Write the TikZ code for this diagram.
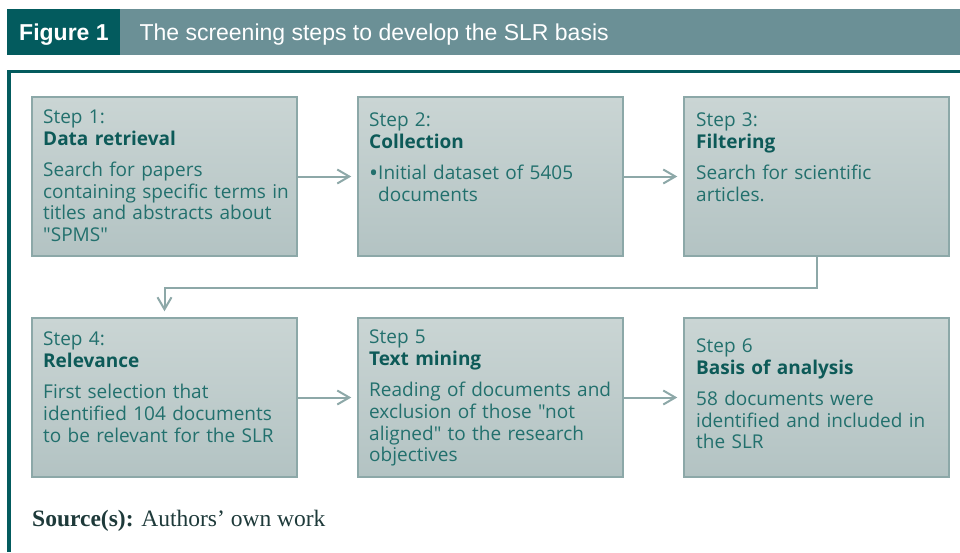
\documentclass[tikz,border=0pt]{standalone}
\usepackage{fontspec}
\setmainfont{Open Sans}[Ligatures=TeXOff]
\newfontfamily\hdrfont{Liberation Sans}
\newfontfamily\srcfont{Liberation Serif}
\usetikzlibrary{arrows.meta}
\definecolor{darkteal}{HTML}{035B5E}
\definecolor{hdrbar}{HTML}{6B9096}
\definecolor{boxtop}{HTML}{CAD5D4}
\definecolor{boxbot}{HTML}{B3C3C3}
\definecolor{boxline}{HTML}{8CA8A8}
\definecolor{bodytxt}{HTML}{22706D}
\definecolor{titletxt}{HTML}{0D5A58}
\definecolor{arrcol}{HTML}{8DA8A8}
\definecolor{srctxt}{HTML}{1E3A3A}
\tikzset{
  stepbox/.style={draw=boxline, line width=1.5pt, top color=boxtop, bottom color=boxbot,
    minimum width=265pt, minimum height=159pt, inner sep=0pt},
  steptext/.style={anchor=north west, inner sep=0pt, text width=250pt, align=left,
    font=\fontsize{19}{21.8}\selectfont, text=bodytxt},
  arr/.style={draw=arrcol, line width=2pt, -{Straight Barb[length=12pt,width=14pt,line width=2pt]}, shorten >=6pt},
}
\newcommand{\ttl}[1]{\textbf{\color{titletxt}#1}}
\newcommand{\bul}{\raisebox{-2.5pt}{\fontsize{24}{21.8}\selectfont •}}
\begin{document}
\begin{tikzpicture}[x=1pt,y=-1pt]
\useasboundingbox (0,0) rectangle (960,552);
\fill[white] (0,0) rectangle (960,552);
% header
\fill[hdrbar] (120,9) rectangle (960,54.5);
\fill[darkteal] (6.7,9) rectangle (120,54.5);
\node[anchor=base west, inner sep=0pt, text=white, font=\hdrfont\bfseries\fontsize{23}{26}\selectfont] (fig) at (19,40) {Figure 1};
\node[anchor=base west, inner sep=0pt, text=white, font=\hdrfont\fontsize{23}{26}\selectfont] (cap) at (139.3,40) {The screening steps to develop the SLR basis};
% frame
\draw[darkteal, line width=3.3pt] (7.3,71.6) -- (960,71.6);
\draw[darkteal, line width=3.5pt] (9,70) -- (9,552);
% boxes
\node[stepbox] (b1) at (164.5,176.5) {};
\node[stepbox] (b2) at (490.5,176.5) {};
\node[stepbox] (b3) at (816.5,176.5) {};
\node[stepbox] (b4) at (164.5,397.5) {};
\node[stepbox] (b5) at (490.5,397.5) {};
\node[stepbox] (b6) at (816.5,397.5) {};
% texts
\node[steptext] (t1) at (43,109.3) {Step 1:\\\ttl{Data retrieval}\\[9.5pt]Search for papers\\containing specific terms in\\titles and abstracts about\\"SPMS"};
\node[steptext] (t2) at (369,112.3) {Step 2:\\\ttl{Collection}\\[9.5pt]\bul Initial dataset of 5405\\\phantom{\bul}documents};
\node[steptext] (t3) at (696,112.3) {Step 3:\\\ttl{Filtering}\\[9.5pt]Search for scientific\\articles.};
\node[steptext] (t4) at (43,331.7) {Step 4:\\\ttl{Relevance}\\[9.5pt]First selection that\\identified 104 documents\\to be relevant for the SLR};
\node[steptext] (t5) at (369,329.5) {Step 5\\\ttl{Text mining}\\[9.5pt]Reading of documents and\\exclusion of those "not\\aligned" to the research\\objectives};
\node[steptext] (t6) at (696,338.3) {Step 6\\\ttl{Basis of analysis}\\[9.5pt]58 documents were\\identified and included in\\the SLR};
% connectors
\draw[arr] (b1.east) -- (b2.west);
\draw[arr] (b2.east) -- (b3.west);
\draw[arr] (b3.south) -- ++(0,31) -| (b4.north);
\draw[arr] (b4.east) -- (b5.west);
\draw[arr] (b5.east) -- (b6.west);
% source
\node[anchor=base west, inner sep=0pt, text=srctxt, font=\srcfont\fontsize{23.5}{26}\selectfont] (src) at (32,526.7) {\textbf{Source(s):} Authors’ own work};
\end{tikzpicture}
\end{document}
